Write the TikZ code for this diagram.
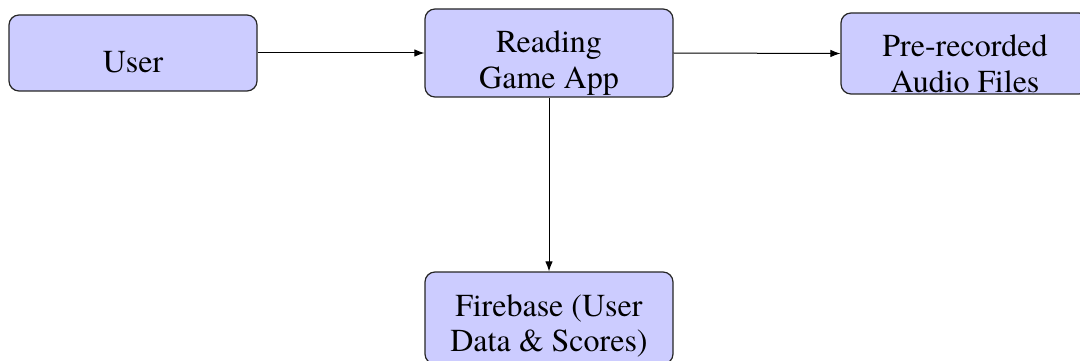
\documentclass[tikz,border=0pt]{standalone}
\usepackage{fontspec}
\IfFontExistsTF{texgyretermes-regular.otf}
  {\setmainfont{texgyretermes}[Extension=.otf, UprightFont=*-regular,
     BoldFont=*-bold, ItalicFont=*-italic, BoldItalicFont=*-bolditalic]}
  {\setmainfont{Liberation Serif}}
\usetikzlibrary{arrows.meta}

\tikzset{
  block/.style={draw=black!85, line width=1.2pt, fill=blue!20, rounded corners=10pt,
                minimum width=248pt, inner sep=0pt},
  caption/.style={inner sep=0pt, align=center, font=\rmfamily\fontsize{32pt}{35.5pt}\selectfont},
  flow/.style={line width=1pt, -{Latex[length=10pt,width=7.5pt]}}
}

\begin{document}
\begin{tikzpicture}[x=1pt, y=-1pt]
  \useasboundingbox (0,0) rectangle (1080,361);
  \clip (0,0) rectangle (1080,361);

  % boxes
  \node[block, minimum height=76pt] (user)  at (133,53)   {};
  \node[block, minimum height=88pt] (app)   at (549,53)   {};
  \node[block, minimum height=81pt] (audio) at (965,53.5) {};
  \node[block, minimum height=92pt] (fb)    at (549,318)  {};

  % box captions
  \node[caption, yshift=-9.5pt]  (tuser)  at (user.center)  {User};
  \node[caption, yshift=-10pt]   (tapp)   at (app.center)   {Reading\\Game App};
  \node[caption, yshift=-10pt]   (taudio) at (audio.center) {Pre-recorded\\Audio Files};
  \node[caption, yshift=-10pt]   (tfb)    at (549,316)      {Firebase (User\\Data \& Scores)};

  % connectors
  \draw[flow] (user.east) -- (app.west);
  \draw[flow] (app.east) -- (audio.west);
  \draw[flow] (app.south) -- (fb.north);
\end{tikzpicture}
\end{document}
